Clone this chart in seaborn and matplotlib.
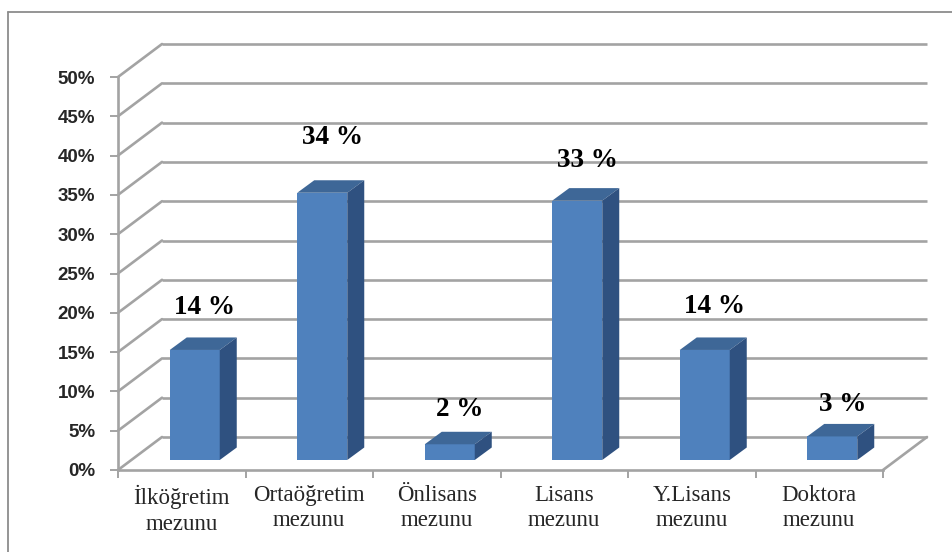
import matplotlib
matplotlib.use("Agg")
import matplotlib.pyplot as plt
import seaborn as sns
import pandas as pd
from matplotlib.patches import Polygon
from matplotlib.lines import Line2D

# ---- data ----
categories = ["İlköğretim\nmezunu", "Ortaöğretim\nmezunu", "Önlisans\nmezunu",
              "Lisans\nmezunu", "Y.Lisans\nmezunu", "Doktora\nmezunu"]
values = [14, 34, 2, 33, 14, 3]
value_labels = ["14 %", "34 %", "2 %", "33 %", "14 %", "3 %"]
yticks = [0, 5, 10, 15, 20, 25, 30, 35, 40, 45, 50]
ytick_labels = [f"{t}%" for t in yticks]
label_rise_px = [36, 49, 28, 34, 37, 25]   # label height above bar (style)

# ---- style ----
W, H, DPI = 952, 552, 100
FRONT = "#4F81BD"
TOP = "#3E6797"
SIDE = "#2F5180"
GRID = "#A3A3A3"

sns.set_theme(style="white")
plt.rcParams["font.family"] = ["Liberation Serif", "DejaVu Sans"]

fig = plt.figure(figsize=(W / DPI, H / DPI), dpi=DPI)
fig.patch.set_facecolor("white")

# axes in pixel geometry
x_left, x_right = 118, 883
y_zero, y_top = 470, 77
ax = fig.add_axes([x_left / W, (H - y_zero) / H, (x_right - x_left) / W, (y_zero - y_top) / H])
ax.set_facecolor("none")
ax.set_xlim(-0.5, 5.5)
ax.set_ylim(0, 50)

px2x = 6.0 / (x_right - x_left)
px2y = 50.0 / (y_zero - y_top)

# depth of the chart box (pixels)
DX, DY = 44, 33
# bar placement in depth
BDX0, BDY0 = 13, 10      # front face offset
BDX, BDY = 17, 12.5      # bar depth

df = pd.DataFrame({"cat": categories, "val": values})

# ---- back wall gridlines + diagonals ----
for t in yticks:
    ax.plot([-0.5 + DX * px2x, 5.5 + DX * px2x], [t + DY * px2y, t + DY * px2y],
            color=GRID, lw=1.9, solid_capstyle="butt", zorder=1, clip_on=False)
    ax.plot([-0.5, -0.5 + DX * px2x], [t, t + DY * px2y],
            color=GRID, lw=1.9, zorder=1, clip_on=False)
# floor right edge
ax.plot([5.5, 5.5 + DX * px2x], [0, DY * px2y], color=GRID, lw=1.9, zorder=1, clip_on=False)

# ---- bars ----
sns.barplot(data=df, x="cat", y="val", color=FRONT, width=50 * px2x,
            saturation=1, ax=ax, zorder=3)
ax.set_xlim(-0.5, 5.5)
ax.set_ylim(0, 50)

for i, p in enumerate(ax.patches):
    p.set_x(p.get_x() + BDX0 * px2x)
    p.set_y(BDY0 * px2y)
    p.set_edgecolor("none")
    p.set_clip_on(False)
    x0 = p.get_x()
    x1 = x0 + p.get_width()
    y0 = p.get_y()
    y1 = y0 + p.get_height()
    dx, dy = BDX * px2x, BDY * px2y
    top = Polygon([(x0, y1), (x1, y1), (x1 + dx, y1 + dy), (x0 + dx, y1 + dy)],
                  closed=True, facecolor=TOP, edgecolor="none", zorder=3, clip_on=False)
    side = Polygon([(x1, y0), (x1, y1), (x1 + dx, y1 + dy), (x1 + dx, y0 + dy)],
                   closed=True, facecolor=SIDE, edgecolor="none", zorder=3, clip_on=False)
    ax.add_patch(top)
    ax.add_patch(side)
    ax.text((x0 + x1) / 2 + 10 * px2x, y1 + label_rise_px[i] * px2y, value_labels[i],
            ha="center", va="baseline", fontsize=19.5, fontweight="bold",
            family=["Liberation Serif"], color="black", zorder=5)

# ---- axes styling ----
for s in ["top", "right"]:
    ax.spines[s].set_visible(False)
for s in ["left", "bottom"]:
    ax.spines[s].set_visible(True)
    ax.spines[s].set_color(GRID)
    ax.spines[s].set_linewidth(1.9)

ax.set_yticks(yticks)
ax.set_yticklabels(ytick_labels, fontsize=13.5, fontweight="bold",
                   family=["Liberation Sans"])
ax.tick_params(axis="y", left=True, length=5.8, width=1.4, color=GRID, pad=10.5)

ax.set_xticks(range(len(categories)))
ax.set_xticklabels(categories, fontsize=16.5, family=["Liberation Serif"], linespacing=1.3)
ax.set_xticks([k - 0.5 for k in range(len(categories) + 1)], minor=True)
ax.tick_params(axis="x", which="major", bottom=True, length=0, pad=10.5)
ax.tick_params(axis="x", which="minor", bottom=True, length=5.8, width=1.4, color=GRID)
ax.set_xlabel("")
ax.set_ylabel("")
ax.grid(False)

# outer frame (top and left visible)
fig.add_artist(Line2D([8 / W, 1.0], [(H - 12) / H, (H - 12) / H], color="#8C8C8C", lw=1.3))
fig.add_artist(Line2D([8 / W, 8 / W], [0, (H - 12) / H], color="#8C8C8C", lw=1.3))

fig.savefig("out.png", dpi=DPI, facecolor="white")
